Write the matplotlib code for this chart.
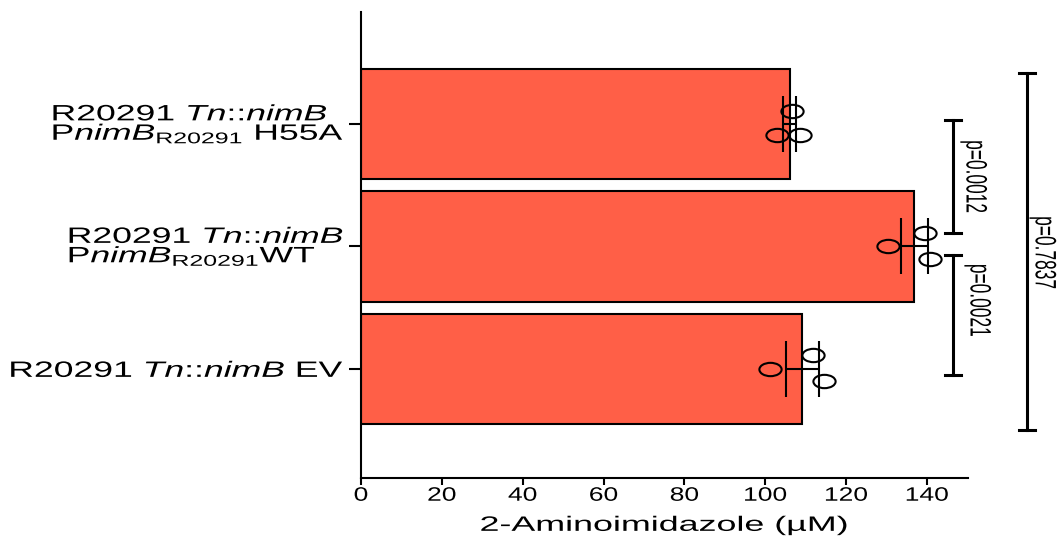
import numpy as np
import matplotlib
matplotlib.use("Agg")
import matplotlib.pyplot as plt
from matplotlib.patheffects import AbstractPathEffect
from matplotlib.transforms import Affine2D
from matplotlib.path import Path

# data (bottom to top)
groups = [
    "R20291 $\\mathit{Tn}$::$\\mathit{nimB}$ EV",
    "R20291 $\\mathit{Tn}$::$\\mathit{nimB}\\;$\nP$\\mathit{nimB}_{\\mathrm{R20291}}$WT",
    "R20291 $\\mathit{Tn}$::$\\mathit{nimB}$\nP$\\mathit{nimB}_{\\mathrm{R20291}}$ H55A",
]
ev_vals = [101.2, 111.8, 114.5]
wt_vals = [130.3, 139.5, 140.7]
h55a_vals = [106.6, 102.9, 108.6]
replicates = [ev_vals, wt_vals, h55a_vals]
xticks = [0, 20, 40, 60, 80, 100, 120, 140]
xlabel = "2-Aminoimidazole (µM)"
# (upper group, lower group, p value)
comparisons = [(2, 1, "p=0.0012"), (1, 0, "p=0.0021"), (2, 0, "p=0.7837")]

# layout
point_offsets = [[0.0, 0.11, -0.10], [0.0, 0.106, -0.106], [0.106, -0.09, -0.09]]
bracket_x = [146.4, 146.4, 164.7]
bracket_y = [(2.03, 1.11), (0.93, -0.05), (2.42, -0.50)]
ptext_pos = [(151.6, 1.57), (152.6, 0.56), (168.7, 0.95)]

W, H = 1063, 540
BAR_COLOR = "#FF5F47"

plt.rcParams["font.family"] = ["Liberation Sans", "DejaVu Sans"]
plt.rcParams["mathtext.fontset"] = "custom"
plt.rcParams["mathtext.rm"] = "Liberation Sans"
plt.rcParams["mathtext.it"] = "Liberation Sans:italic"
plt.rcParams["mathtext.bf"] = "Liberation Sans:bold"


class StretchX(AbstractPathEffect):
    # widen glyphs horizontally, the reference text is drawn extended
    def __init__(self, sx, anchor="center"):
        super().__init__()
        self.sx = sx
        self.anchor = anchor

    def draw_path(self, renderer, gc, tpath, affine, rgbFace=None):
        if len(tpath.vertices) == 0:
            return
        if self.anchor == "center":
            ext = tpath.get_extents(affine)
            x0 = 0.5 * (ext.x0 + ext.x1)
        else:
            x0 = self.anchor
        st = Affine2D().translate(-x0, 0).scale(self.sx, 1).translate(x0, 0)
        renderer.draw_path(gc, tpath, affine + st, rgbFace)


fig = plt.figure(figsize=(W / 100, H / 100), dpi=100)
ax = fig.add_axes([361 / W, 62 / H, (967.5 - 361) / W, 466 / H])

pos = np.arange(len(groups))
means = [np.mean(v) for v in replicates]
sems = [np.std(v, ddof=1) / np.sqrt(len(v)) for v in replicates]

ax.barh(pos, means, height=0.9, color=BAR_COLOR, edgecolor="black",
        linewidth=1.5, zorder=1)
ax.errorbar(means, pos, xerr=sems, fmt="none", ecolor="black",
            elinewidth=1.5, capsize=20, capthick=1.5, zorder=3)

ellipse = Affine2D().scale(1, 0.6).transform_path(Path.unit_circle())
for i, vals in enumerate(replicates):
    ys = [pos[i] + o for o in point_offsets[i]]
    ax.plot(vals, ys, linestyle="none", marker=ellipse, markersize=16,
            markerfacecolor="none", markeredgecolor="black",
            markeredgewidth=1.5, zorder=4)

# significance brackets
for k, (a, b, ptxt) in enumerate(comparisons):
    x = bracket_x[k]
    y0, y1 = bracket_y[k]
    ax.plot([x, x], [y0, y1], color="black", lw=2.2, clip_on=False)
    for y in (y0, y1):
        ax.plot([x - 2.0, x + 2.0], [y, y], color="black", lw=2.2,
                clip_on=False)
    tx, ty = ptext_pos[k]
    ax.text(tx, ty, ptxt, rotation=-90, ha="center", va="center",
            fontsize=12.5, clip_on=False,
            path_effects=[StretchX(1.7)])

ax.set_xlim(0, 150)
ax.set_ylim(-0.89, 2.914)
ax.set_xticks(xticks)
ax.set_xticklabels([str(t) for t in xticks])
ax.set_yticks(pos)
ax.set_yticklabels(groups)

for side in ["top", "right"]:
    ax.spines[side].set_visible(False)
for side in ["left", "bottom"]:
    ax.spines[side].set_linewidth(1.5)

ax.tick_params(axis="x", length=5, width=1.5, pad=2, labelsize=14)
ax.tick_params(axis="y", length=9, width=1.5, pad=2, labelsize=16)

ylab_right = 361 - (9 + 2) * 100 / 72
for t in ax.get_yticklabels():
    t.set_linespacing(0.8)
    t.set_multialignment("left")
    t.set_path_effects([StretchX(1.6, ylab_right)])
for t in ax.get_xticklabels():
    t.set_path_effects([StretchX(1.36)])

ax.set_xlabel(xlabel, fontsize=15, labelpad=8,
              path_effects=[StretchX(1.72)])

fig.savefig("out.png", dpi=100)
